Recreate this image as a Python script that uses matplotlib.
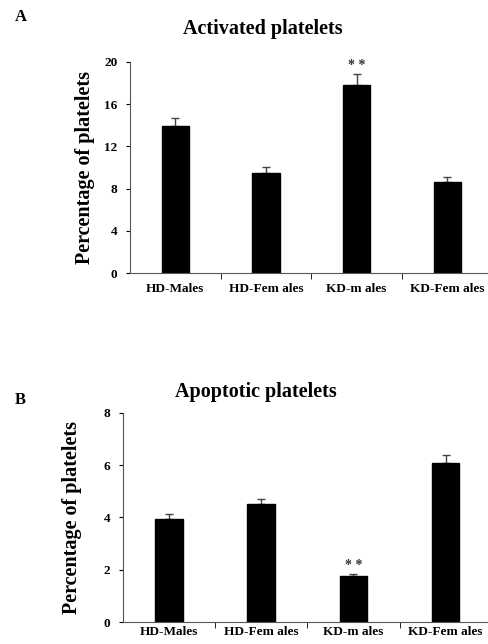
import numpy as np
import matplotlib.pyplot as plt

plt.rcParams['font.family'] = ['Liberation Serif', 'DejaVu Serif']
plt.rcParams['font.weight'] = 'bold'

groups = ["HD-Males", "HD-Fem ales", "KD-m ales", "KD-Fem ales"]

# Panel A - activated platelets (%)
act_mean = [13.95, 9.45, 17.85, 8.6]
act_err = [0.7, 0.55, 1.0, 0.45]

# Panel B - apoptotic platelets (%)
apo_mean = [3.93, 4.5, 1.75, 6.1]
apo_err = [0.22, 0.22, 0.08, 0.3]


def draw_panel(ax, means, errs, ymax, yticks, star_idx, label_x, xpad):
    x = np.arange(len(means))
    ax.bar(x, means, width=0.3, color='black', edgecolor='black', zorder=2)
    ax.errorbar(x, means, yerr=[np.zeros(len(errs)), errs], fmt='none',
                ecolor='#444444', elinewidth=1, capsize=3, capthick=1, zorder=1)
    ax.set_xlim(-0.5, len(means) - 0.5)
    ax.set_ylim(0, ymax)
    ax.set_yticks(yticks)
    ax.set_yticklabels([str(t) for t in yticks], fontsize=9.5, fontweight='bold')
    # ticks between categories
    ax.set_xticks(x)
    ax.set_xticklabels(groups, fontsize=9.5, fontweight='bold')
    ax.tick_params(axis='x', length=0, pad=xpad)
    ax.set_xticks(np.arange(0.5, len(means) - 0.5, 1), minor=True)
    ax.tick_params(axis='x', which='minor', length=4, direction='out')
    ax.tick_params(axis='y', length=3, direction='out', pad=6)
    for side in ['top', 'right']:
        ax.spines[side].set_visible(False)
    for side in ['left', 'bottom']:
        ax.spines[side].set_color('#555555')
    ax.set_ylabel("Percentage of platelets", fontsize=14.5, fontweight='bold')
    ax.yaxis.set_label_coords(label_x, 0.5)
    i = star_idx
    ax.text(i, means[i] + errs[i] + ymax * 0.01, "* *", ha='center', va='bottom',
            fontsize=10, color='#333333')


fig = plt.figure(figsize=(4.89, 6.44), dpi=100)

axA = fig.add_axes([0.266, 0.576, 0.741, 0.328])
draw_panel(axA, act_mean, act_err, 20, [0, 4, 8, 12, 16, 20], 2, -0.097, 7)

axB = fig.add_axes([0.2515, 0.034, 0.754, 0.325])
draw_panel(axB, apo_mean, apo_err, 8, [0, 2, 4, 6, 8], 2, -0.11, 3)

fig.text(263 / 489, 1 - 29 / 644, "Activated platelets", fontsize=14.5,
         fontweight='bold', ha='center', va='center')
fig.text(256 / 489, 1 - 392 / 644, "Apoptotic platelets", fontsize=14.5,
         fontweight='bold', ha='center', va='center')

fig.text(0.03, 0.973, "A", fontsize=12, fontweight='bold', va='center')
fig.text(0.03, 0.379, "B", fontsize=12, fontweight='bold', va='center')

fig.savefig("out.png", dpi=100)
